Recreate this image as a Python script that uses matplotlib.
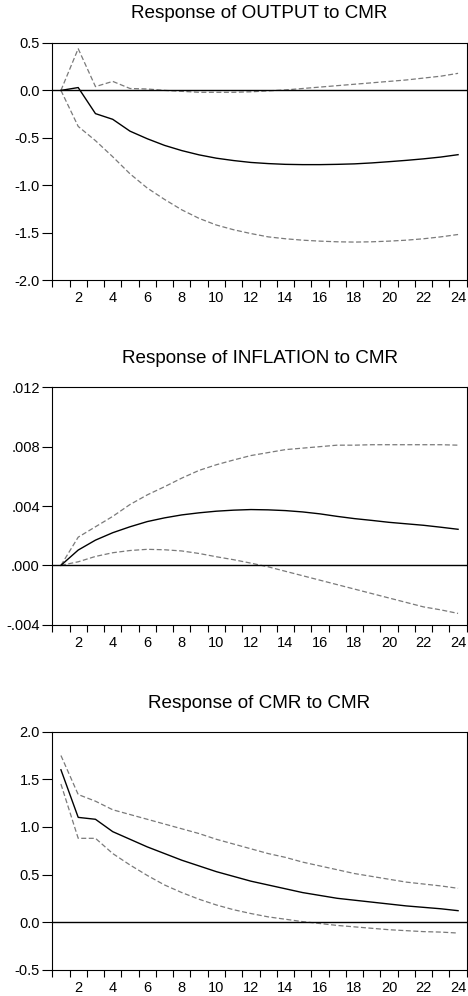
import matplotlib
matplotlib.use("Agg")
import matplotlib.pyplot as plt
import numpy as np

plt.rcParams['font.family'] = ['Liberation Sans', 'DejaVu Sans']

periods = list(range(1, 25))

output_mean = [0, 0.03, -0.245, -0.305, -0.43, -0.51, -0.58, -0.635, -0.68, -0.715, -0.74, -0.76,
               -0.772, -0.78, -0.783, -0.783, -0.78, -0.775, -0.765, -0.752, -0.738, -0.722, -0.703, -0.678]
output_upper = [0, 0.44, 0.04, 0.095, 0.02, 0.015, 0.0, -0.01, -0.02, -0.02, -0.02, -0.015,
                -0.005, 0.005, 0.02, 0.035, 0.05, 0.065, 0.08, 0.095, 0.11, 0.13, 0.15, 0.18]
output_lower = [0, -0.38, -0.53, -0.70, -0.88, -1.03, -1.15, -1.26, -1.35, -1.42, -1.47, -1.51,
                -1.545, -1.565, -1.58, -1.59, -1.597, -1.60, -1.597, -1.59, -1.58, -1.565, -1.545, -1.52]

infl_mean = [0, 0.00103, 0.0017, 0.0022, 0.0026, 0.00295, 0.0032, 0.0034, 0.00354, 0.00365, 0.00372, 0.00376,
             0.00374, 0.00369, 0.0036, 0.00347, 0.0033, 0.00315, 0.00303, 0.0029, 0.0028, 0.0027, 0.00257, 0.00243]
infl_upper = [0, 0.0019, 0.0026, 0.0033, 0.0041, 0.00475, 0.0053, 0.00588, 0.0064, 0.00678, 0.0071, 0.0074,
              0.0076, 0.0078, 0.0079, 0.0080, 0.0081, 0.0081, 0.00813, 0.00813, 0.00813, 0.00813, 0.00813, 0.0081]
infl_lower = [0, 0.00024, 0.0006, 0.00085, 0.0010, 0.00108, 0.00105, 0.00097, 0.0008, 0.00058, 0.00038, 0.00015,
              -0.0001, -0.0004, -0.0007, -0.0010, -0.0013, -0.0016, -0.0019, -0.0022, -0.0025, -0.0028, -0.0030, -0.00324]

cmr_mean = [1.60, 1.10, 1.08, 0.95, 0.87, 0.79, 0.72, 0.65, 0.59, 0.53, 0.48, 0.43,
            0.39, 0.35, 0.31, 0.28, 0.25, 0.23, 0.21, 0.19, 0.17, 0.155, 0.14, 0.12]
cmr_upper = [1.75, 1.34, 1.27, 1.18, 1.13, 1.08, 1.03, 0.98, 0.93, 0.87, 0.82, 0.77,
             0.72, 0.68, 0.63, 0.59, 0.55, 0.51, 0.48, 0.45, 0.42, 0.40, 0.38, 0.355]
cmr_lower = [1.45, 0.88, 0.88, 0.72, 0.60, 0.49, 0.39, 0.31, 0.24, 0.18, 0.13, 0.09,
             0.055, 0.03, 0.005, -0.015, -0.035, -0.05, -0.065, -0.08, -0.09, -0.10, -0.105, -0.115]

titles = ["Response of OUTPUT to CMR", "Response of INFLATION to CMR", "Response of CMR to CMR"]
yticks_list = [[-2.0, -1.5, -1.0, -0.5, 0.0, 0.5],
               [-0.004, 0.0, 0.004, 0.008, 0.012],
               [-0.5, 0.0, 0.5, 1.0, 1.5, 2.0]]
ytick_labels = [["-2.0", "-1.5", "-1.0", "-0.5", "0.0", "0.5"],
                ["-.004", ".000", ".004", ".008", ".012"],
                ["-0.5", "0.0", "0.5", "1.0", "1.5", "2.0"]]
xtick_labels = [str(v) for v in range(2, 25, 2)]

series = [(output_mean, output_upper, output_lower),
          (infl_mean, infl_upper, infl_lower),
          (cmr_mean, cmr_upper, cmr_lower)]

W, H = 468, 996
fig = plt.figure(figsize=(W / 100, H / 100), dpi=100)

# axes boxes in pixels: (left, top, right, bottom)
boxes = [(52.3, 43.0, 466.7, 280.0), (52.3, 387.3, 466.7, 624.7), (52.3, 731.7, 466.7, 969.7)]
title_y = [13, 358, 703]

for i in range(3):
    l, t, r, b = boxes[i]
    ax = fig.add_axes([l / W, 1 - b / H, (r - l) / W, (b - t) / H])
    m, u, lo = series[i]
    ax.plot(periods, u, color='#7a7a7a', lw=0.9, ls=(0, (4, 2)))
    ax.plot(periods, lo, color='#7a7a7a', lw=0.9, ls=(0, (4, 2)))
    ax.plot(periods, m, color='black', lw=1.0)
    ax.axhline(0, color='black', lw=1.0)
    ax.set_xlim(0.5, 24.5)
    yt = yticks_list[i]
    ax.set_ylim(yt[0], yt[-1])
    ax.set_yticks(yt)
    ax.set_yticklabels(ytick_labels[i])
    ax.set_xticks(range(2, 25, 2))
    ax.set_xticklabels(xtick_labels)
    ax.set_xticks(np.arange(0.5, 24.6, 1.0), minor=True)
    ax.tick_params(axis='x', which='major', length=0, pad=8, labelsize=10.5)
    ax.tick_params(axis='x', which='minor', length=5, width=0.8, direction='out')
    ax.tick_params(axis='y', which='major', length=7, width=0.8, direction='out', pad=2, labelsize=10.5)
    for s in ax.spines.values():
        s.set_linewidth(0.8)
    fig.text((l + r) / 2 / W, 1 - title_y[i] / H, titles[i], ha='center', va='center', fontsize=13.6)

fig.savefig("out.png", dpi=100)
